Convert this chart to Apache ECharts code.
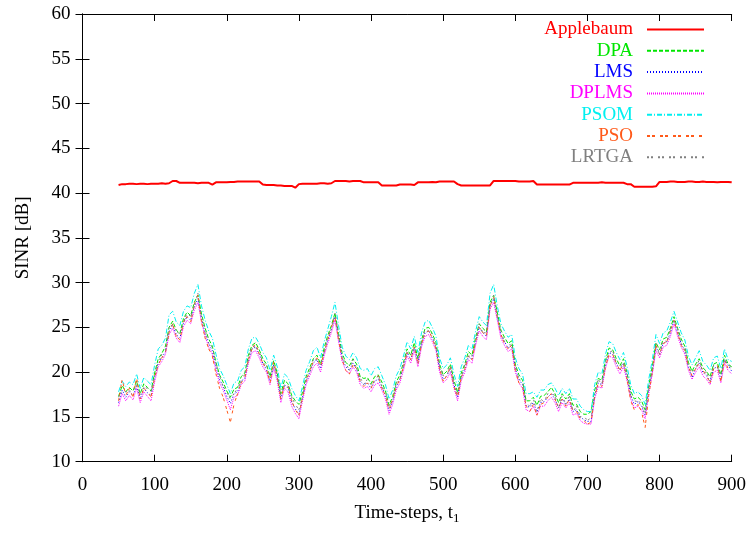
<!DOCTYPE html>
<html>
<head>
<meta charset="utf-8">
<script src="https://cdn.jsdelivr.net/npm/echarts@6/dist/echarts.min.js"></script>
<style>
  html, body { margin: 0; padding: 0; background: #fff; }
  #chart { width: 750px; height: 535px; }
</style>
</head>
<body>
<div id="chart"></div>
<script>
// time steps 50..900, every 5
var timeSteps = [];
for (var t = 50; t <= 900; t += 5) timeSteps.push(t);

var xTicks = [0, 100, 200, 300, 400, 500, 600, 700, 800, 900];
var yTicks = [10, 15, 20, 25, 30, 35, 40, 45, 50, 55, 60];

var applebaum = [
  40.9,41.0,41.0,41.05,41.05,41.0,41.05,41.05,41.0,41.05,
  41.05,41.05,41.1,41.05,41.1,41.35,41.35,41.15,41.15,41.15,
  41.15,41.15,41.1,41.15,41.15,41.15,40.95,41.2,41.2,41.2,
  41.2,41.25,41.25,41.3,41.3,41.3,41.3,41.3,41.3,41.3,
  40.95,40.9,40.9,40.9,40.85,40.85,40.8,40.8,40.8,40.6,
  41.0,41.05,41.05,41.05,41.05,41.05,41.1,41.1,41.05,41.1,
  41.35,41.35,41.35,41.35,41.3,41.35,41.35,41.35,41.2,41.2,
  41.2,41.2,41.2,40.85,40.85,40.85,40.85,40.85,40.95,40.95,
  40.95,40.95,40.9,41.2,41.2,41.2,41.2,41.25,41.2,41.3,
  41.3,41.3,41.3,41.3,41.0,40.85,40.85,40.85,40.85,40.85,
  40.85,40.85,40.85,40.85,41.35,41.35,41.35,41.35,41.35,41.35,
  41.35,41.3,41.3,41.3,41.3,41.35,40.95,40.95,40.95,40.95,
  40.95,40.95,40.95,40.95,40.95,40.95,41.15,41.15,41.15,41.15,
  41.15,41.15,41.15,41.15,41.2,41.15,41.15,41.15,41.15,41.15,
  41.15,41.0,41.0,40.7,40.7,40.7,40.7,40.7,40.7,40.75,
  41.25,41.25,41.25,41.3,41.3,41.25,41.25,41.25,41.3,41.3,
  41.25,41.25,41.3,41.25,41.25,41.25,41.2,41.25,41.25,41.25,
  41.2
];

var dpa = [
  17.3,18.5,17.8,18.3,17.9,19.0,17.6,18.7,18.3,17.9,
  19.9,21.5,22.1,22.9,25.0,25.7,24.7,24.3,26.0,26.7,
  26.3,27.8,28.6,26.5,24.9,23.7,22.9,21.1,19.7,18.9,
  17.9,17.2,18.1,18.3,19.5,19.9,21.9,23.0,23.3,22.5,
  21.5,20.9,19.5,21.3,19.9,17.6,19.1,18.7,17.4,16.8,
  16.4,17.8,19.5,20.5,21.5,21.9,20.9,22.7,24.1,25.2,
  26.6,24.3,22.1,21.1,20.7,21.5,20.9,19.5,19.3,19.4,
  18.7,19.5,19.7,18.9,17.9,16.3,17.3,18.9,19.7,21.1,
  22.6,21.9,23.3,21.5,23.6,24.9,25.0,24.3,23.3,20.9,
  19.7,20.1,20.9,19.1,17.7,19.9,20.9,22.3,21.9,23.9,
  25.4,24.9,24.5,27.8,28.6,26.7,24.7,23.9,23.2,23.5,
  20.9,19.7,19.1,16.8,16.8,17.2,16.3,17.3,17.4,17.8,
  18.3,17.6,16.6,17.6,17.0,17.6,16.3,16.4,15.6,15.3,
  15.3,15.6,18.0,19.3,19.1,21.3,22.7,22.5,21.5,20.7,
  21.5,19.9,17.9,17.0,17.2,16.8,15.8,18.5,20.7,23.3,
  22.5,23.7,23.9,24.9,26.2,24.9,23.7,22.9,21.1,20.1,
  20.9,21.5,20.5,20.1,19.5,20.9,21.1,19.7,21.9,20.9,
  20.6
];

var lms = [
  16.6,18.0,17.2,17.8,17.4,18.4,17.0,18.2,17.7,17.4,
  19.4,21.0,21.6,22.3,24.6,25.2,24.2,23.8,25.5,26.2,
  25.8,27.3,28.2,26.0,24.3,23.2,22.4,20.6,19.2,18.4,
  17.3,16.5,17.6,17.8,19.0,19.3,21.4,22.6,22.8,22.0,
  21.0,20.3,19.0,20.8,19.4,17.0,18.6,18.2,16.7,15.9,
  15.3,17.2,19.0,20.0,21.0,21.4,20.4,22.2,23.6,24.8,
  26.2,23.8,21.6,20.6,20.2,21.0,20.4,19.0,18.6,18.8,
  18.2,19.0,19.2,18.4,17.4,15.7,16.8,18.4,19.2,20.6,
  22.2,21.4,22.8,21.0,23.2,24.4,24.6,23.8,22.8,20.4,
  19.2,19.6,20.4,18.6,17.2,19.4,20.4,21.8,21.4,23.4,
  25.0,24.4,24.0,27.4,28.2,26.2,24.2,23.4,22.7,23.0,
  20.4,19.2,18.6,16.2,16.1,16.6,15.6,16.6,16.7,17.2,
  17.6,17.0,16.0,17.0,16.4,17.0,15.6,15.8,15.0,14.7,
  14.5,14.5,17.4,18.8,18.6,20.8,22.2,22.0,21.0,20.2,
  21.0,19.4,17.4,16.4,16.7,16.2,15.2,18.0,20.2,22.8,
  22.0,23.2,23.4,24.4,25.8,24.4,23.2,22.4,20.6,19.4,
  20.4,21.0,20.0,19.6,19.0,20.4,20.6,19.2,21.4,20.8,
  20.1
];

var dplms = [
  16.2,17.6,16.8,17.4,16.9,18.2,16.6,17.8,17.3,16.8,
  18.9,20.6,21.2,22.0,24.2,24.9,23.8,23.3,25.1,25.8,
  25.4,26.9,27.8,25.6,24.0,22.8,22.0,20.2,18.8,18.0,
  16.9,15.8,17.2,17.4,18.6,19.0,21.0,22.2,22.4,21.6,
  20.6,20.0,18.6,20.4,19.0,16.6,18.2,17.8,16.2,15.4,
  14.8,16.8,18.6,19.6,20.6,21.0,20.0,21.8,23.2,24.4,
  25.8,23.4,21.2,20.2,19.8,20.6,20.0,18.6,18.2,18.4,
  17.8,18.6,18.8,18.0,17.0,15.3,16.4,18.0,18.8,20.2,
  21.8,21.0,22.4,20.6,22.8,24.0,24.2,23.4,22.4,20.0,
  18.8,19.2,20.0,18.2,16.8,19.0,20.0,21.4,21.0,23.0,
  24.6,24.0,23.6,27.0,27.8,25.8,23.8,23.0,22.3,22.6,
  20.0,18.8,18.2,15.8,15.6,16.2,15.2,16.2,16.2,16.8,
  17.2,16.6,15.6,16.6,16.0,16.6,15.2,15.4,14.6,14.3,
  14.2,14.2,17.0,18.4,18.2,20.4,21.8,21.6,20.6,19.8,
  20.6,19.0,17.0,16.0,16.2,15.8,14.8,17.6,19.8,22.4,
  21.6,22.8,23.0,24.0,25.4,24.0,22.8,22.0,20.2,19.2,
  20.0,20.6,19.6,19.2,18.6,20.0,20.2,18.8,21.0,20.2,
  19.8
];

var psom = [
  17.8,19.0,18.4,18.9,18.6,19.8,18.2,19.4,19.0,18.6,
  20.8,22.6,23.0,23.8,26.4,26.8,25.6,25.2,26.8,27.4,
  27.2,28.8,29.8,27.4,25.8,24.6,23.8,22.0,20.4,19.6,
  18.6,17.6,18.8,19.0,20.2,20.6,22.6,23.8,23.9,23.2,
  22.2,21.6,20.2,21.9,20.6,18.2,19.8,19.4,18.2,17.4,
  16.8,18.4,20.2,21.2,22.4,22.8,21.6,23.4,24.8,26.2,
  27.8,25.2,22.8,21.8,21.4,22.2,21.6,20.4,20.2,20.4,
  19.6,20.4,20.6,19.6,18.6,17.0,18.0,19.6,20.4,21.8,
  23.4,22.6,24.0,22.2,24.4,25.6,25.8,25.0,24.0,21.6,
  20.4,20.8,21.6,19.8,18.4,20.6,21.6,23.0,22.6,24.6,
  26.2,25.6,25.2,28.8,29.8,27.4,25.4,24.6,23.9,24.2,
  21.6,20.4,19.8,17.6,17.6,17.8,17.2,18.0,18.0,18.6,
  18.8,18.2,17.4,18.2,17.6,18.2,17.0,17.0,16.2,15.8,
  15.6,15.6,18.6,20.0,19.8,22.0,23.4,23.2,22.2,21.4,
  22.2,20.6,18.6,17.6,17.8,17.4,16.4,19.2,21.4,24.2,
  23.2,24.4,24.6,25.6,26.8,25.6,24.4,23.6,21.8,20.8,
  21.6,22.4,21.2,20.8,20.2,21.6,21.8,20.4,22.6,21.4,
  21.2
];

var pso = [
  16.8,19.2,17.4,18.2,17.2,19.4,17.0,18.2,17.8,17.2,
  19.4,20.8,21.6,22.2,24.4,25.4,24.0,23.6,25.6,26.2,
  25.6,27.6,28.6,25.6,23.8,22.6,21.8,19.8,18.2,17.2,
  15.8,14.4,16.4,17.6,18.8,19.4,21.4,22.6,23.2,22.0,
  21.0,20.4,18.8,21.2,19.4,17.0,18.6,18.4,16.8,15.8,
  15.2,17.2,19.0,20.2,21.2,21.6,20.6,22.2,23.6,25.0,
  26.2,23.6,21.4,20.2,19.8,20.8,20.4,19.0,18.4,18.8,
  18.2,19.2,19.6,18.2,17.4,15.8,17.0,18.4,19.2,20.6,
  22.2,21.4,22.8,21.0,23.2,24.4,24.6,23.8,22.6,20.4,
  19.0,19.6,20.6,18.4,17.2,19.4,20.4,21.8,21.4,23.4,
  25.0,24.4,24.0,27.4,28.4,26.2,24.2,23.2,22.6,23.0,
  20.2,18.8,18.4,16.2,15.6,16.4,15.2,16.4,16.6,17.2,
  17.6,17.0,16.0,17.0,16.2,17.0,15.6,15.6,14.8,14.6,
  14.2,14.4,17.2,18.8,18.4,20.6,22.0,22.0,21.0,20.2,
  21.0,19.2,16.8,15.8,16.4,15.6,13.8,17.4,20.0,23.0,
  22.0,23.2,23.4,24.6,25.8,24.4,23.0,22.4,20.6,19.6,
  20.4,21.0,20.2,19.6,18.8,20.4,20.8,19.0,21.4,20.4,
  20.2
];

var lrtga = [
  17.2,18.0,17.8,17.9,17.8,18.6,17.5,18.3,18.2,17.8,
  19.8,21.0,22.0,22.4,25.0,25.3,24.6,24.2,25.6,26.6,
  26.2,27.4,28.8,26.0,24.8,23.2,22.8,21.0,19.6,18.4,
  17.8,17.0,17.6,18.2,19.0,19.8,21.4,23.0,22.8,22.4,
  21.0,20.8,19.4,20.8,19.8,17.4,18.6,18.6,17.2,16.4,
  15.8,17.2,19.4,20.0,21.4,21.4,20.8,22.2,24.0,24.8,
  26.6,24.2,21.6,21.0,20.2,21.4,20.4,19.4,18.6,19.2,
  18.6,19.0,19.6,18.4,17.8,16.2,16.8,18.8,19.2,21.0,
  22.2,21.8,22.8,21.4,23.2,24.8,24.6,24.2,22.8,20.8,
  19.6,19.6,20.8,18.6,17.6,19.4,20.8,21.8,21.8,23.4,
  25.4,24.4,24.4,27.4,28.6,26.2,24.6,23.4,23.1,23.0,
  20.8,19.2,19.0,16.6,16.2,17.0,15.6,17.0,16.7,17.6,
  17.6,17.4,16.0,17.4,16.4,17.4,15.6,16.2,15.0,15.1,
  14.6,14.9,17.4,19.2,18.6,21.2,22.2,22.4,21.0,20.6,
  21.0,19.8,17.4,16.8,16.7,16.6,15.2,18.4,20.2,23.2,
  22.0,23.6,23.4,24.8,25.8,24.8,23.2,22.8,20.6,20.0,
  20.4,21.4,20.0,20.0,19.0,20.8,20.6,19.6,21.4,20.8,
  20.5
];

var seriesNames = ['Applebaum', 'DPA', 'LMS', 'DPLMS', 'PSOM', 'PSO', 'LRTGA'];
var seriesData = [applebaum, dpa, lms, dplms, psom, pso, lrtga];
var seriesColors = ['#ff0000', '#00e600', '#0000ff', '#ff00ff', '#00f0f0', '#ff5a1a', '#808080'];
var seriesDash = ['solid', [4, 2], [1, 2], [1, 1], [5, 2, 1, 2], [3, 2, 3, 5], [2, 2, 2, 5]];
var seriesWidth = [2, 1, 1, 1, 1, 1, 1];

var font = 'Liberation Serif';

function pairs(values) {
  return timeSteps.map(function (ts, i) { return [ts, values[i]]; });
}

var series = seriesNames.map(function (name, i) {
  return {
    name: name,
    type: 'line',
    showSymbol: false,
    symbol: 'none',
    animation: false,
    lineStyle: { color: seriesColors[i], width: seriesWidth[i], type: seriesDash[i] },
    itemStyle: { color: seriesColors[i] },
    data: pairs(seriesData[i])
  };
});

var legends = seriesNames.map(function (name, i) {
  return {
    data: [{ name: name, textStyle: { color: seriesColors[i] } }],
    right: 45,
    top: 20 + i * 21.3,
    align: 'right',
    itemWidth: 57,
    itemHeight: 10,
    padding: 0,
    selectedMode: false,
    itemStyle: { opacity: 0 },
    textStyle: { fontFamily: font, fontSize: 19, padding: [0, 9, 0, 0] }
  };
});

var axisLine = { show: true, lineStyle: { color: '#000', width: 1 } };
var axisTick = { show: true, inside: true, length: 7, lineStyle: { color: '#000' } };

var myChart = echarts.init(document.getElementById('chart'));
myChart.setOption({
  backgroundColor: '#fff',
  animation: false,
  legend: legends,
  grid: { left: 82.5, right: 18.3, top: 14, bottom: 73.3, containLabel: false },
  xAxis: [{
    type: 'value',
    min: xTicks[0],
    max: xTicks[xTicks.length - 1],
    interval: 100,
    axisLine: axisLine,
    axisTick: axisTick,
    splitLine: { show: false },
    axisLabel: { fontFamily: font, fontSize: 19, color: '#000', margin: 14 },
    name: '{a|Time-steps, t}{b|1}',
    nameLocation: 'middle',
    nameGap: 40,
    nameTextStyle: {
      rich: {
        a: { fontFamily: font, fontSize: 19, color: '#000' },
        b: { fontFamily: font, fontSize: 13, color: '#000', padding: [10, 0, 0, 0] }
      }
    }
  }, {
    type: 'value',
    position: 'top',
    min: xTicks[0],
    max: xTicks[xTicks.length - 1],
    interval: 100,
    axisLine: axisLine,
    axisTick: axisTick,
    splitLine: { show: false },
    axisLabel: { show: false }
  }],
  yAxis: [{
    type: 'value',
    min: yTicks[0],
    max: yTicks[yTicks.length - 1],
    interval: 5,
    axisLine: axisLine,
    axisTick: axisTick,
    splitLine: { show: false },
    axisLabel: { fontFamily: font, fontSize: 19, color: '#000', margin: 12 },
    name: 'SINR [dB]',
    nameLocation: 'middle',
    nameGap: 50,
    nameTextStyle: { fontFamily: font, fontSize: 19, color: '#000' }
  }, {
    type: 'value',
    position: 'right',
    min: yTicks[0],
    max: yTicks[yTicks.length - 1],
    interval: 5,
    axisLine: axisLine,
    axisTick: axisTick,
    splitLine: { show: false },
    axisLabel: { show: false }
  }],
  series: series
});
</script>
</body>
</html>
